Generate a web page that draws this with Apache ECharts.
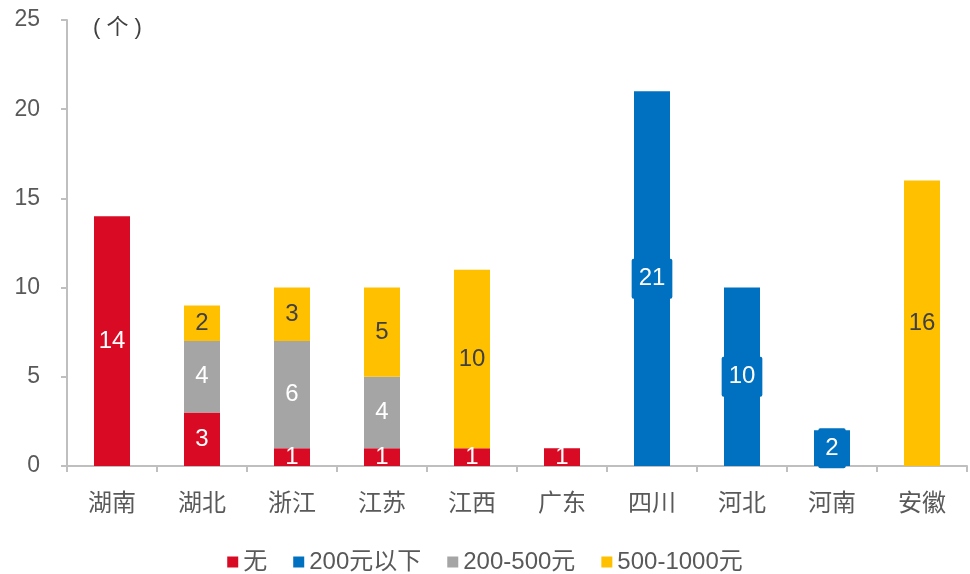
<!DOCTYPE html>
<html>
<head>
<meta charset="utf-8">
<script src="https://cdn.jsdelivr.net/npm/echarts@6/dist/echarts.min.js"></script>
<style>html,body{margin:0;padding:0;background:#fff}#c{width:970px;height:574px}</style>
</head>
<body>
<div id="c"></div>
<script>
const categories = ['湖南','湖北','浙江','江苏','江西','广东','四川','河北','河南','安徽'];
const seriesNames = ['无','200元以下','200-500元','500-1000元'];
const valsNone = [14, 3, 1, 1, 1, 1, null, null, null, null];
const valsUnder200 = [null, null, null, null, null, null, 21, 10, 2, null];
const vals200to500 = [null, 4, 6, 4, null, null, null, null, null, null];
const vals500to1000 = [null, 2, 3, 5, 10, null, null, null, null, 16];
const yTicks = [0, 5, 10, 15, 20, 25];

const FONT = '"Liberation Sans", Arial, "Noto Sans CJK SC", sans-serif';
const colors = ['#D90B24', '#0070C0', '#A5A5A5', '#FFC000'];
const labelColors = ['#ffffff', '#ffffff', '#ffffff', '#404040'];
const allData = [valsNone, valsUnder200, vals200to500, vals500to1000];

const chart = echarts.init(document.getElementById('c'), null, {renderer: 'canvas'});
chart.setOption({
  animation: false,
  backgroundColor: '#ffffff',
  textStyle: {fontFamily: FONT},
  title: {
    text: '( 个 )', left: 88, top: 12,
    textStyle: {fontSize: 22, fontWeight: 'normal', color: '#404040', fontFamily: FONT}
  },
  legend: {
    top: 545, left: 'center',
    itemWidth: 11, itemHeight: 11, itemGap: 26,
    icon: 'rect',
    textStyle: {fontSize: 24, color: '#595959', fontFamily: FONT},
    data: seriesNames
  },
  grid: {left: 67, right: 3, top: 20, bottom: 108, containLabel: false},
  xAxis: {
    type: 'category', data: categories,
    axisLine: {lineStyle: {color: '#BFBFBF', width: 2}},
    axisTick: {show: true, length: 6, lineStyle: {color: '#BFBFBF', width: 2}},
    axisLabel: {fontSize: 24, color: '#595959', margin: 26, fontFamily: FONT}
  },
  yAxis: {
    type: 'value', min: yTicks[0], max: yTicks[yTicks.length-1], interval: 5,
    axisLine: {show: true, lineStyle: {color: '#BFBFBF', width: 2}},
    axisTick: {show: true, length: 6, lineStyle: {color: '#BFBFBF', width: 2}},
    splitLine: {show: false},
    axisLabel: {fontSize: 23, color: '#595959', margin: 27, fontFamily: FONT}
  },
  series: seriesNames.map((name, i) => ({
    name: name, type: 'bar', stack: 'total',
    barWidth: '40%',
    itemStyle: {color: colors[i]},
    label: {
      show: true, position: 'inside',
      fontSize: 24, color: labelColors[i], fontFamily: FONT,
      backgroundColor: i === 1 ? colors[1] : 'transparent',
      padding: i === 1 ? [8, 7] : 0,
      borderRadius: 2
    },
    data: allData[i]
  }))
});
</script>
</body>
</html>
